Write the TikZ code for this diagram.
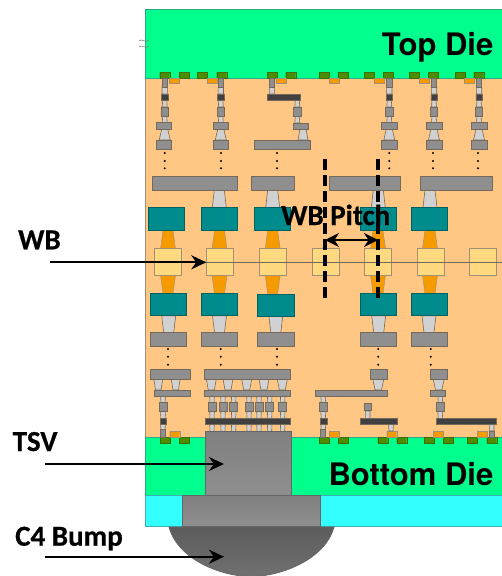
\documentclass[tikz,border=0pt]{standalone}
\usepackage{fontspec}
\setmainfont{Carlito}[BoldFeatures={FakeBold=0.5}]
\newfontfamily\diefont{TeX Gyre Heros}
\usetikzlibrary{arrows.meta}
\definecolor{diegreen}{rgb}{0,1,.55}
\definecolor{fillzero}{rgb}{1,.776,.518}
\definecolor{cyanlay}{rgb}{.2,1,1}
\definecolor{tealbox}{rgb}{0,.55,.55}
\definecolor{padgreen}{rgb}{.3,.55,0}
\definecolor{padgreenedge}{rgb}{.24,.44,0}
\definecolor{padorange}{rgb}{.96,.604,0}
\definecolor{yellowbox}{rgb}{1,.851,.498}
\definecolor{metal}{rgb}{.56,.56,.56}
\definecolor{metaledge}{rgb}{.46,.41,.35}
\definecolor{softedge}{rgb}{.63,.56,.47}
\definecolor{darkmetal}{rgb}{.25,.25,.25}
\definecolor{lightvia}{rgb}{.82,.82,.82}
\definecolor{tealedge}{rgb}{0,.38,.38}
\definecolor{dieedge}{rgb}{.17,.66,.53}
\definecolor{cyanedge}{rgb}{.24,.69,.71}
\definecolor{tsvedge}{rgb}{.4,.4,.4}
\definecolor{bumptop}{rgb}{.36,.36,.36}
\definecolor{bumpbot}{rgb}{.44,.44,.44}
\definecolor{landtop}{rgb}{.5,.5,.5}
\tikzset{
  metalbox/.style={draw=metaledge,fill=metal,line width=.8pt},
  darkbox/.style={draw=metaledge,fill=darkmetal,line width=.6pt},
  viabox/.style={draw=metaledge,fill=lightvia,line width=.6pt},
  tealblock/.style={draw=tealedge,fill=tealbox,line width=.6pt},
  orangevia/.style={draw=softedge,fill=padorange,line width=.4pt},
  yellowblock/.style={draw=softedge,fill=yellowbox,line width=.8pt},
  gpad/.style={draw=padgreenedge,fill=padgreen,line width=.4pt},
  opad/.style={draw=softedge,fill=padorange,line width=.4pt},
  diebox/.style={fill=diegreen,draw=dieedge,line width=.8pt},
  shadedbox/.style={draw=tsvedge,line width=.8pt,top color=landtop,bottom color=metal},
  lbl/.style={font=\fontsize{29}{29}\selectfont\bfseries,anchor=base west,inner sep=0pt},
  dielbl/.style={font=\diefont\fontsize{31}{31}\selectfont\bfseries,anchor=base east,inner sep=0pt},
  callout/.style={line width=2.2pt,-{Stealth[length=15pt,width=14pt]}},
  pitch/.style={line width=2pt,{Stealth[length=14pt,width=14pt]}-{Stealth[length=14pt,width=14pt]}},
  pitchline/.style={line width=3.6pt,dash pattern=on 11pt off 5pt},
}
\newcommand{\tpz}[5]{(#1-#4,#2) -- (#1+#4,#2) -- (#1+#5,#3) -- (#1-#5,#3) -- cycle}
\begin{document}
\begin{tikzpicture}[x=1pt,y=-1pt]
\useasboundingbox (0,0) rectangle (502,576);
% dies
\fill[fillzero] (145,78) rectangle (502,437);
\draw[draw=softedge,line width=1pt] (145,78) -- (145,437);
\draw[diebox] (145,9) rectangle (502,78);
\draw[diebox] (145,437) rectangle (502,495);
\draw[fill=cyanlay,draw=cyanedge,line width=.8pt] (145,495) rectangle (502,526);
% break mark
\draw[gray,line width=.6pt] foreach \yy in {41,47} {(139,\yy) .. controls (142,\yy-3.5) and (145,\yy+3) .. (149,\yy-1)};
% pads
\draw[gpad]
  foreach \xx in {159.7,179,197.3,216.7,267,285.7,319.3,338.3,364.3,383.3,409.3,428.3,455,473.7} {(\xx,72) rectangle (\xx+10,78)}
  foreach \xx in {160,179.3,319.3,338.3,377.7,396.7,424.3,443.3,467.3,486.7} {(\xx,437) rectangle (\xx+10,443)};
\draw[opad]
  foreach \xx in {169.5,207.2,276.5,329,374,419,464.5} {(\xx,78) rectangle (\xx+10,83)}
  foreach \xx in {169.7,329,386.7,433.3,477} {(\xx,431) rectangle (\xx+10,437)};
% light vias
\draw[viabox]
  foreach \xx in {164.7,220.8,389.3,434,479} {
    (\xx-2.7,87) rectangle (\xx+2.7,94)
    \tpz{\xx}{100}{107}{2}{2.5}
    \tpz{\xx}{116}{123}{2}{2.5}
    \tpz{\xx}{129}{140}{3}{5.5}
  }
  (269.3,87) rectangle (274.3,94)
  \tpz{297.3}{100}{107}{2}{2.5}
  \tpz{297.3}{116}{123}{2}{2.5}
  \tpz{303}{129}{140}{3}{5}
  foreach \xx in {219.3,272.7,378.3,430} {\tpz{\xx}{190}{207.5}{5}{7}}
  foreach \xx in {168.7,219.5,275.8,378.7,429} {\tpz{\xx}{315.7}{332.5}{7}{5}}
  foreach \xx in {158.3,175.7} {\tpz{\xx}{379}{390}{4.5}{2.7}}
  foreach \xx in {211.3,228,246.7,264,282.3} {\tpz{\xx}{379}{390}{5}{3}}
  foreach \xx in {212,223,233.7,249,259,269.7,282.7} {
    \tpz{\xx}{396}{403}{2.3}{2}
    \tpz{\xx}{411}{419}{2.3}{2}
    \tpz{\xx}{424}{431.5}{2.3}{2}
  }
  foreach \xx in {163,323.3} {
    \tpz{\xx}{396}{403}{2.5}{2}
    \tpz{\xx}{411}{419}{2.5}{2}
    \tpz{\xx}{424}{430}{2.5}{2}
  }
  \tpz{378.3}{379}{390}{5.5}{3.2}
  \tpz{438.7}{379}{390}{5.5}{3.2}
  \tpz{367.7}{411}{418.5}{2.3}{2.3}
  \tpz{391}{424}{431}{2.5}{2}
  \tpz{440.3}{396}{403}{2.5}{2}
  \tpz{440.3}{411}{419}{2.5}{2}
  (489.3,424) rectangle (494,431);
% orange tapers
\draw[orangevia]
  foreach \xx in {168,219.5,272.7,378,430} {
    \tpz{\xx}{230.5}{249}{5}{7.5}
    \tpz{\xx}{275}{293.5}{7.5}{5}
  };
% metal
\draw[metalbox]
  foreach \xx/\lf/\rg in {164.7/156.3/171.7,220.8/213/228.7,389.3/381.3/397.3,434/426/442,479/471.3/487} {
    (\xx-2.7,78) rectangle (\xx+2.7,87)
    (\xx-3.8,107) rectangle (\xx+3.8,116)
    (\lf,122.7) rectangle (\rg,129)
    (\lf,140) rectangle (\rg,149.3)
  }
  (269,78) rectangle (274.5,87)
  (293.3,107) rectangle (301.3,116)
  (293,123) rectangle (308,129)
  (254,140) rectangle (310.7,149.3)
  (152.7,176) rectangle (237.7,190)
  (251.7,176) rectangle (294,190)
  (329.3,176.7) rectangle (400,190.7)
  (420.3,176) rectangle (492.3,190)
  foreach \lf/\rg in {150/186.7,201.3/237.7,257.7/294,360.7/396.7,411/447.3} {(\lf,332.3) rectangle (\rg,346.3)}
  (150.7,369) rectangle (190.7,379)
  (154.7,390) rectangle (190.7,396)
  (159.3,402.7) rectangle (167,411)
  (160.5,429) rectangle (165.5,437)
  (204,369) rectangle (290,379)
  (204,390) rectangle (290,396)
  foreach \xx in {212,223,233.7,249,259,269.7,282.7} {(\xx-3.9,402.7) rectangle (\xx+3.9,411)}
  (370.3,369) rectangle (387.3,379)
  (315.7,390) rectangle (387.3,396)
  (319.3,402.7) rectangle (327.7,411)
  (320.8,429) rectangle (325.8,437)
  (364,403) rectangle (371.3,410.7)
  (430.3,369) rectangle (447.3,379)
  (430.3,390) rectangle (445.7,396)
  (436,402.7) rectangle (444.7,411)
  (489,431) rectangle (494.3,437);
% dark
\draw[darkbox]
  foreach \xx in {164.7,220.8,389.3,434,479} {(\xx-3.2,94.7) rectangle (\xx+3.2,100.3)}
  (267,94.5) rectangle (300.7,100.3)
  (160,418.3) rectangle (166,424.3)
  (205.3,418.7) rectangle (290,424)
  (320.5,418.3) rectangle (327,424)
  (360.7,418.3) rectangle (397.3,424)
  (436,418.3) rectangle (496.7,424);
% dots
\fill[black]
  foreach \xx in {164.7,221,277,389.3,433,478} {foreach \yy in {153,161,168.3} {(\xx,\yy) circle (1.1pt)}}
  foreach \xx in {168,220.7,277,378.3,430.7} {foreach \yy in {349,356.7,364.7} {(\xx,\yy) circle (1.1pt)}};
% teal
\draw[tealblock]
  (148.7,207.7) rectangle (184.7,230.7)
  (201.3,207.2) rectangle (237.7,230.2)
  (254,207.2) rectangle (290,230.2)
  (360.7,207.7) rectangle (396.7,230.7)
  (411,207.2) rectangle (447,230.2)
  (150.7,293.3) rectangle (186.7,315.7)
  (201.3,293.3) rectangle (237.7,315.7)
  (257.7,294) rectangle (294,316)
  (360.7,293.3) rectangle (396.7,315.7)
  (411,293.3) rectangle (447,315.7);
% yellow bonds
\draw[yellowblock]
  foreach \xx in {154.3,259.7,312,364.3,417,469.7} {(\xx,248.7) rectangle (\xx+27,275)};
\node[yellowblock,minimum width=27pt,minimum height=26.3pt,inner sep=0pt] (wbpad) at (220.2,261.85) {};
\draw[draw=metaledge,line width=.5pt] (145,262) -- (502,262);
% bump, landing pad, TSV
\draw[draw=tsvedge,line width=.8pt,top color=bumptop,bottom color=bumpbot] (169,527) .. controls (178,560) and (222,576.5) .. (251,576.5) .. controls (280,576.5) and (325,560) .. (334,527) -- cycle;
\draw[shadedbox] (182,495) rectangle (320,526.5);
\node[shadedbox,minimum width=86pt,minimum height=64pt,inner sep=0pt] (tsv) at (248.7,463) {};
\coordinate (bump) at (224,556.7);
\coordinate (tsvtip) at (224,464);
% die labels
\node[dielbl] (topdie) at (493.5,55) {Top Die};
\node[dielbl] (botdie) at (493.5,485.7) {Bottom Die};
% pitch
\coordinate (pa) at (325,158.7);
\coordinate (pb) at (325,299);
\coordinate (qa) at (378,158.7);
\coordinate (qb) at (378,299);
\coordinate (ma) at (325,240);
\coordinate (mb) at (378,240);
\draw[pitchline] (pa) -- (pb);
\draw[pitchline] (qa) -- (qb);
\draw[pitch] (ma) -- (mb);
\node[lbl] (pitchlbl) at (281,225) {WB Pitch};
% callouts
\node[lbl] (wb) at (18,249.3) {WB};
\node[lbl] (tsvlbl) at (12.5,451) {TSV};
\node[lbl] (c4) at (15,545.7) {C4 Bump};
\coordinate (wbs) at (50,262.3);
\coordinate (tsvs) at (45,464);
\coordinate (c4s) at (45,556.7);
\draw[callout] (wbs) -- (wbpad.west |- wbs);
\draw[callout] (tsvs) -- (tsvtip);
\draw[callout] (c4s) -- (bump);
\end{tikzpicture}
\end{document}
